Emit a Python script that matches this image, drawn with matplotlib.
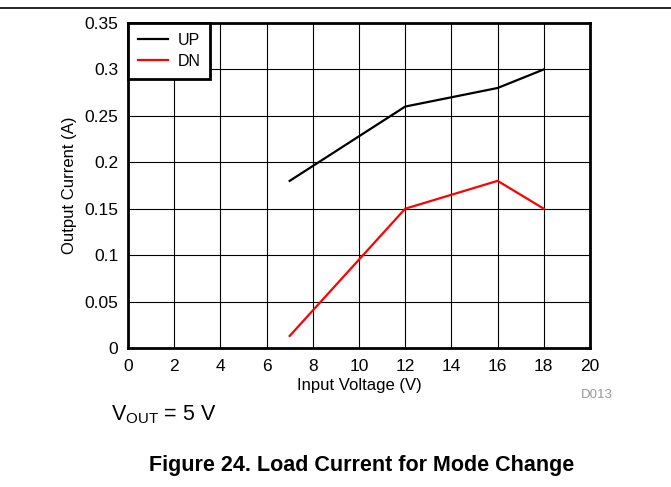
import matplotlib
matplotlib.use("Agg")
import matplotlib.pyplot as plt
from matplotlib.lines import Line2D

plt.rcParams['font.family'] = ['Liberation Sans', 'DejaVu Sans']
plt.rcParams['mathtext.fontset'] = 'custom'
plt.rcParams['mathtext.rm'] = 'Liberation Sans'

up_x = [7, 12, 16, 18]
up_y = [0.18, 0.26, 0.28, 0.30]
dn_x = [7, 12, 16, 18]
dn_y = [0.013, 0.15, 0.18, 0.15]
xticks = list(range(0, 21, 2))
yticks = [0, 0.05, 0.1, 0.15, 0.2, 0.25, 0.3, 0.35]
yticklabels = ['0', '0.05', '0.1', '0.15', '0.2', '0.25', '0.3', '0.35']

fig = plt.figure(figsize=(6.71, 4.87), dpi=100)
ax = fig.add_axes([128/671, 1-348/487, 462/671, 325/487])
ax.plot(up_x, up_y, color='black', lw=1.6, label='UP')
ax.plot(dn_x, dn_y, color='#ff0000', lw=1.6, label='DN')
ax.set_xlim(0, 20)
ax.set_ylim(0, 0.35)
ax.set_xticks(xticks)
ax.set_yticks(yticks)
ax.set_yticklabels(yticklabels)
ax.grid(True, color='black', lw=0.8)
ax.tick_params(length=0, labelsize=12.5)
ax.tick_params(axis='x', pad=8)
ax.tick_params(axis='y', pad=7)
for s in ax.spines.values():
    s.set_linewidth(2)
ax.set_xlabel('Input Voltage (V)', fontsize=12, labelpad=3)
ax.set_ylabel('Output Current (A)', fontsize=12, labelpad=5)
leg = ax.legend(loc='upper left', fontsize=11.5, frameon=True, fancybox=False,
                borderaxespad=0, handlelength=1.9, borderpad=0.6, labelspacing=0.4,
                handletextpad=0.6)
leg.get_frame().set_edgecolor('black')
leg.get_frame().set_linewidth(2)
leg.get_frame().set_alpha(1)

fig.add_artist(Line2D([0, 1], [1-8/487, 1-8/487], color='black', lw=1.2))
fig.text(597/671, 1-395/487, 'D013', color='#999999', fontsize=9.5, ha='center', va='center')
fig.text(111/671, 1-415/487, r'V$_{\mathregular{OUT}}$ = 5 V', fontsize=15.5, ha='left', va='center')
fig.text(362/671, 1-466/487, 'Figure 24. Load Current for Mode Change', fontsize=15.5,
         fontweight='bold', ha='center', va='center')
fig.savefig('out.png', dpi=100)
